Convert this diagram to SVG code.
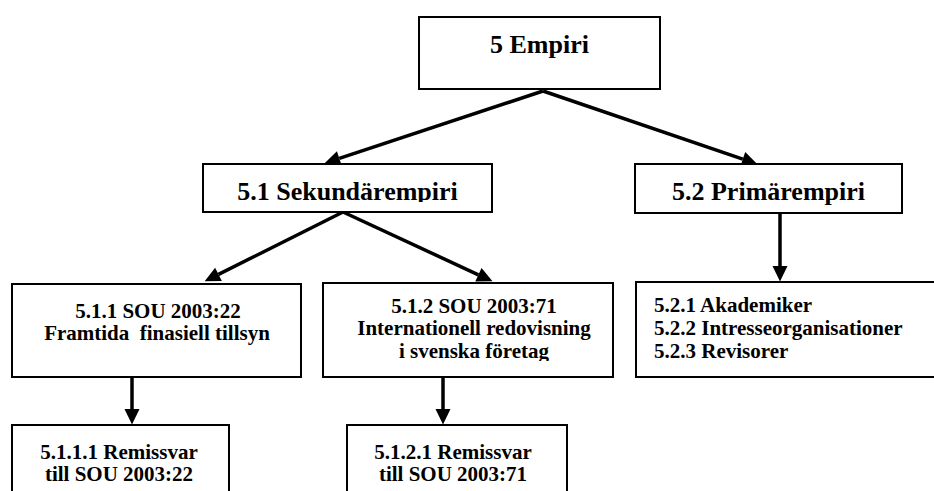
<svg xmlns="http://www.w3.org/2000/svg" width="934" height="491" viewBox="0 0 934 491">
  <style>
    .box { fill: #ffffff; stroke: #000000; stroke-width: 2; }
    .big { font-family: "Liberation Serif", "Times New Roman", serif; font-weight: bold; font-size: 26px; fill: #000000; }
    .small { font-family: "Liberation Serif", "Times New Roman", serif; font-weight: bold; font-size: 21px; fill: #000000; }
    .conn { stroke: #000000; stroke-width: 3.5; fill: none; marker-end: url(#ah); }
  </style>
  <defs>
    <marker id="ah" markerUnits="userSpaceOnUse" markerWidth="16" markerHeight="16" refX="0" refY="7.5" orient="auto" overflow="visible">
      <path d="M0,0 L15.5,7.5 L0,15 Z" fill="#000000"/>
    </marker>
    <clipPath id="clip51"><rect x="203" y="164" width="289" height="38"/></clipPath>
    <clipPath id="clip512"><rect x="323" y="283" width="290" height="78"/></clipPath>
  </defs>
  <rect width="934" height="491" fill="#ffffff"/>

  <g id="connectors">
    <line class="conn" x1="543" y1="91" x2="339.3" y2="158.4"/>
    <line class="conn" x1="543" y1="91" x2="742.8" y2="159.2"/>
    <line class="conn" x1="343" y1="212" x2="218.5" y2="274.4"/>
    <line class="conn" x1="343" y1="212" x2="478.4" y2="274.8"/>
    <line class="conn" x1="132" y1="377" x2="132" y2="409"/>
    <line class="conn" x1="443" y1="377" x2="443" y2="409"/>
    <line class="conn" x1="780" y1="213" x2="780" y2="266"/>
  </g>

  <g id="n5">
    <rect class="box" x="419" y="17" width="241" height="72"/>
    <text class="big" x="539.5" y="53" text-anchor="middle">5 Empiri</text>
  </g>

  <g id="n51">
    <rect class="box" x="203" y="164" width="289" height="48"/>
    <text class="big" x="347.5" y="199.5" text-anchor="middle" clip-path="url(#clip51)">5.1 Sekundärempiri</text>
  </g>

  <g id="n52">
    <rect class="box" x="635" y="164" width="267" height="49"/>
    <text class="big" x="768.5" y="200" text-anchor="middle">5.2 Primärempiri</text>
  </g>

  <g id="n511">
    <rect class="box" x="12" y="284" width="289" height="93"/>
    <text class="small" x="158" y="318" text-anchor="middle">5.1.1 SOU 2003:22</text>
    <text class="small" x="157" y="340" text-anchor="middle" xml:space="preserve">Framtida  finasiell tillsyn</text>
  </g>

  <g id="n512">
    <rect class="box" x="323" y="283" width="290" height="94"/>
    <g clip-path="url(#clip512)">
      <text class="small" x="474" y="313" text-anchor="middle">5.1.2 SOU 2003:71</text>
      <text class="small" x="474" y="335" text-anchor="middle">Internationell redovisning</text>
      <text class="small" x="474" y="358" text-anchor="middle">i svenska företag</text>
    </g>
  </g>

  <g id="n52x">
    <rect class="box" x="636" y="282" width="310" height="95"/>
    <text class="small" x="654" y="312">5.2.1 Akademiker</text>
    <text class="small" x="654" y="335">5.2.2 Intresseorganisationer</text>
    <text class="small" x="654" y="358">5.2.3 Revisorer</text>
  </g>

  <g id="n5111">
    <rect class="box" x="12" y="425" width="217" height="80"/>
    <text class="small" x="119" y="459" text-anchor="middle">5.1.1.1 Remissvar</text>
    <text class="small" x="119" y="481" text-anchor="middle">till SOU 2003:22</text>
  </g>

  <g id="n5121">
    <rect class="box" x="347" y="425" width="220" height="80"/>
    <text class="small" x="453" y="459" text-anchor="middle">5.1.2.1 Remissvar</text>
    <text class="small" x="453" y="481" text-anchor="middle">till SOU 2003:71</text>
  </g>
</svg>
